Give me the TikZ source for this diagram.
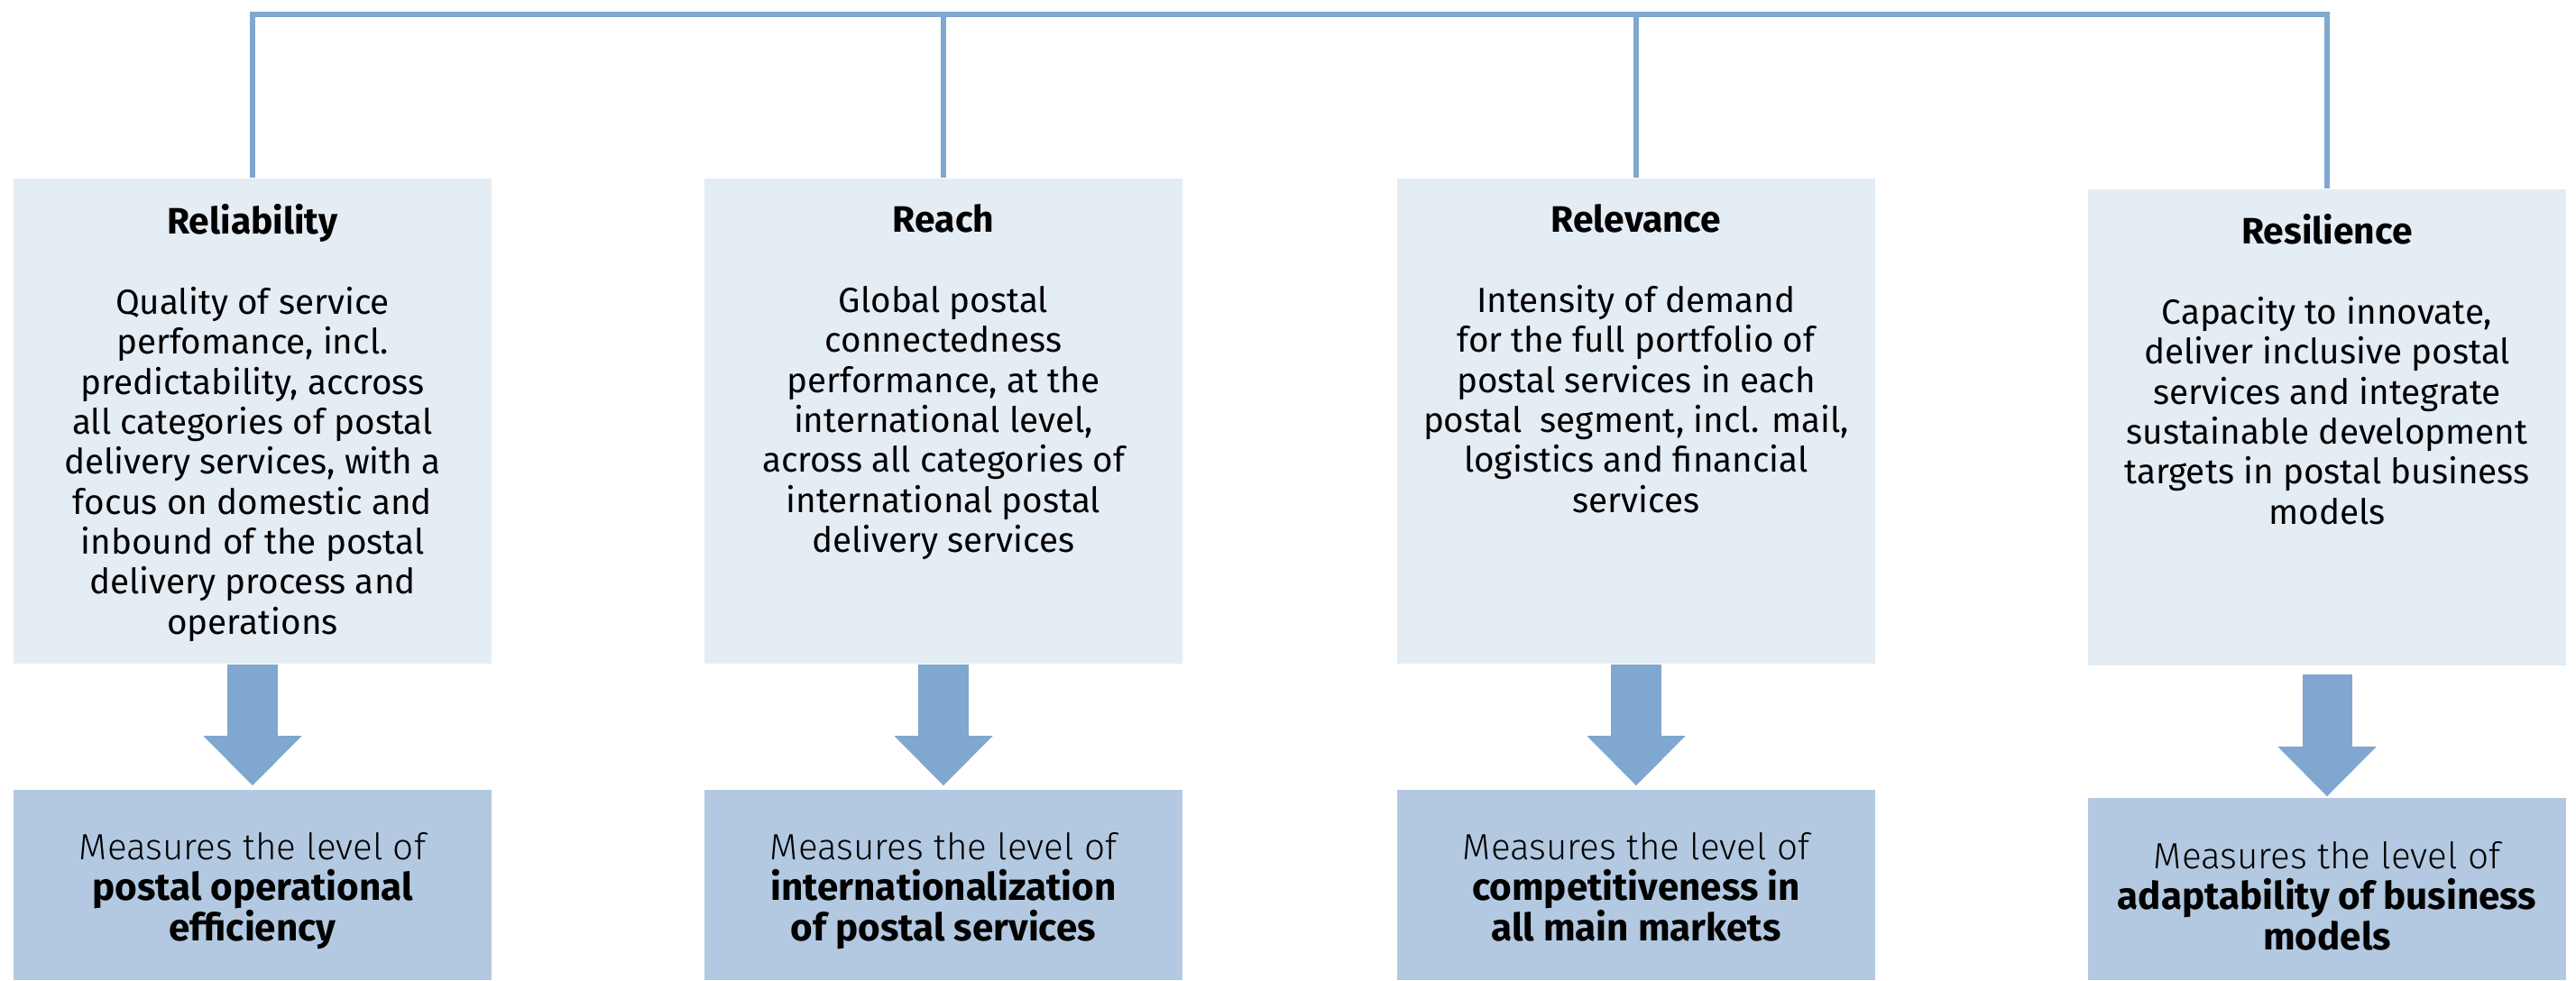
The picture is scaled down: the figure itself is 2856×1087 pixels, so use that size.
\documentclass[tikz,border=0pt]{standalone}
\usepackage{fontspec}
\setmainfont{Fira Sans}
\newfontfamily\lightfont{Fira Sans Light}
\usepackage{xcolor}
\usetikzlibrary{arrows.meta,positioning}

\definecolor{boxlight}{RGB}{228,236,244}
\definecolor{boxmid}{RGB}{179,201,225}
\definecolor{linkblue}{RGB}{127,167,207}

\newcommand{\boxtitle}[1]{{\fontsize{11.6}{12.6}\selectfont\bfseries #1}}
\newcommand{\boldline}[1]{{\fontsize{12}{12.8}\selectfont\bfseries #1}}

\tikzset{
  upbox/.style={fill=boxlight, minimum width=5.3cm, inner sep=0pt},
  lowbox/.style={fill=boxmid, minimum width=5.3cm, inner sep=0pt},
  uptext/.style={anchor=north, align=center, inner sep=0pt, font=\fontsize{11}{12.6}\selectfont},
  lowtext/.style={anchor=north, align=center, inner sep=0pt, font=\fontsize{11.5}{12.8}\selectfont},
  link/.style={draw=linkblue, line width=0.06cm},
  bigarrow/.style={draw=linkblue, line width=0.55cm,
    -{Triangle[width=1.09cm, length=0.55cm, line width=0pt]}, shorten >=0.04cm}
}

\begin{document}
\begin{tikzpicture}[x=0.01cm, y=-0.01cm]
  \useasboundingbox (0,0) rectangle (2856,1087);

  % Boîtes du haut
  \node[upbox, minimum height=5.38cm] (rel) at (280,467) {};
  \node[upbox, minimum height=5.38cm] (rea) at (1046,467) {};
  \node[upbox, minimum height=5.38cm] (rlv) at (1814,467) {};
  \node[upbox, minimum height=5.28cm] (res) at (2580,474) {};

  \node[uptext] (reltxt) at (280,226) {\boxtitle{Reliability}\\[0.445cm]
    Quality of service\\ perfomance, incl.\\ predictability, accross\\
    all categories of postal\\ delivery services, with a\\
    focus on domestic and\\ inbound of the postal\\
    delivery process and\\ operations};
  \node[uptext] (reatxt) at (1046,226) {\boxtitle{Reach}\\[0.445cm]
    Global postal\\ connectedness\\ performance, at the\\
    international level,\\ across all categories of\\
    international postal\\ delivery services};
  \node[uptext] (rlvtxt) at (1814,226) {\boxtitle{Relevance}\\[0.445cm]
    Intensity of demand\\ for the full portfolio of\\
    postal services in each\\ postal\ \ segment, incl. mail,\\
    logistics and financial\\ services};
  \node[uptext] (restxt) at (2580,237) {\boxtitle{Resilience}\\[0.445cm]
    Capacity to innovate,\\ deliver inclusive postal\\
    services and integrate\\ sustainable development\\
    targets in postal business\\ models};

  % Boîtes du bas
  \node[lowbox, minimum height=2.11cm] (relm) at (280,981.5) {};
  \node[lowbox, minimum height=2.11cm] (ream) at (1046,981.5) {};
  \node[lowbox, minimum height=2.11cm] (rlvm) at (1814,981.5) {};
  \node[lowbox, minimum height=2.02cm] (resm) at (2580,986) {};

  \node[lowtext] (relmtxt) at (280,923) {{\lightfont Measures the level of}\\
    \boldline{postal operational}\\ \boldline{efficiency}};
  \node[lowtext] (reamtxt) at (1046,923) {{\lightfont Measures the level of}\\
    \boldline{internationalization}\\ \boldline{of postal services}};
  \node[lowtext] (rlvmtxt) at (1814,923) {{\lightfont Measures the level of}\\
    \boldline{competitiveness in}\\ \boldline{all main markets}};
  \node[lowtext] (resmtxt) at (2580,933) {{\lightfont Measures the level of}\\
    \boldline{adaptability of business}\\ \boldline{models}};

  % Liaisons du haut
  \coordinate (top) at (0,16);
  \draw[link] (rel.north) -- (rel.north |- top) -- (res.north |- top) -- (res.north);
  \foreach \b in {rea,rlv} {
    \draw[link] (\b.north) -- (\b.north |- top);
  }

  % Flèches
  \foreach \a/\b in {rel/relm, rea/ream, rlv/rlvm} {
    \draw[bigarrow] (\a.south) -- (\b.north);
  }
  \draw[bigarrow, shorten <=0.09cm, shorten >=0.01cm] (res.south) -- (resm.north);
\end{tikzpicture}
\end{document}
